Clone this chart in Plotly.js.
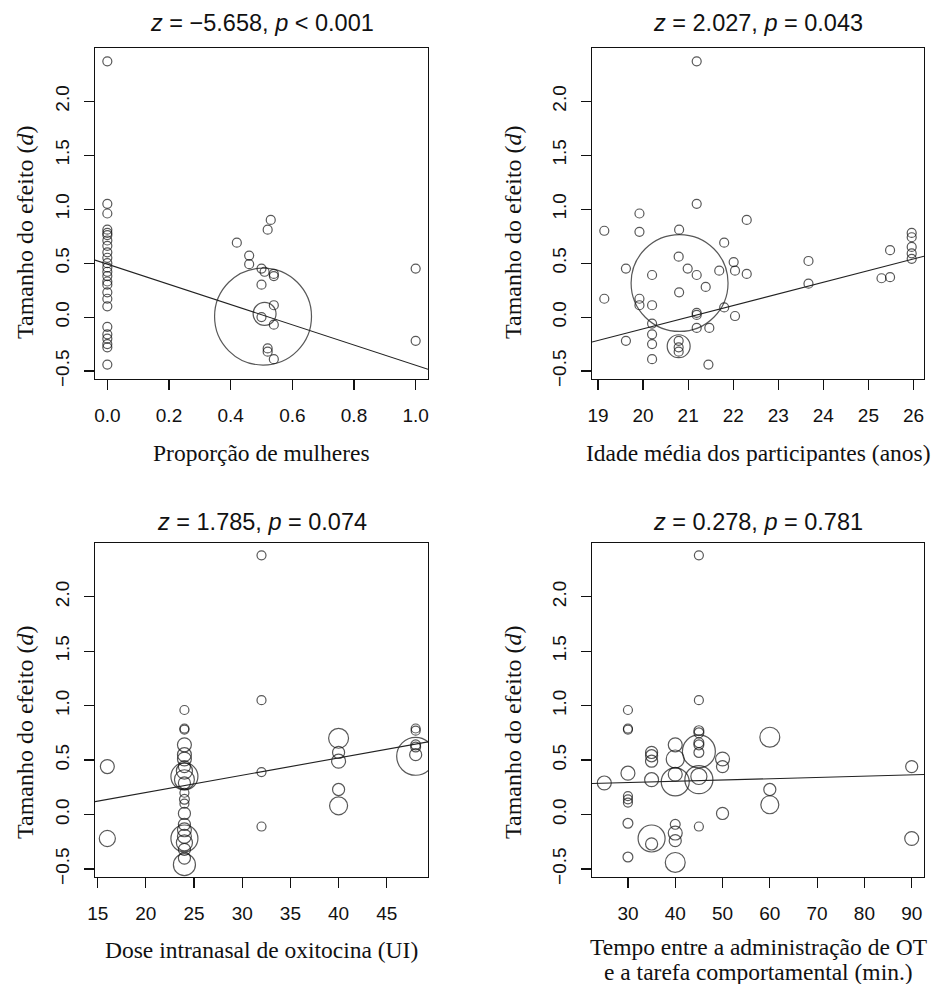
<!DOCTYPE html>
<html><head><meta charset="utf-8">
<script src="https://cdn.plot.ly/plotly-3.0.1.min.js"></script>
<style>html,body{margin:0;padding:0;background:#fff}#chart{width:934px;height:984px}</style>
</head><body><div id="chart"></div>
<script>
// ---------- Painel 1: Proporção de mulheres ----------
const propMulheres = [0,0,0,0,0,0,0,0,0,0,0,0,0,0,0,0,0,0,0,0,0,0,0,0,0,
  0.42,0.46,0.46,0.50,0.51,0.54,0.54,0.52,0.53,0.50,0.54,0.50,0.51,0.505,0.54,0.52,0.52,0.54,
  1.0,1.0];
const dMulheres = [2.37,1.05,0.96,0.81,0.78,0.76,0.71,0.66,0.60,0.55,0.50,0.46,0.42,0.38,0.33,0.30,0.23,0.17,0.10,-0.09,-0.16,-0.20,-0.25,-0.28,-0.44,
  0.69,0.57,0.49,0.45,0.42,0.40,0.38,0.81,0.90,0.30,0.11,0.00,0.03,0.005,-0.07,-0.29,-0.32,-0.39,
  0.45,-0.22];
const pesoMulheres = [1,1,1,1,1,1,1,1,1,1,1,1,1,1,1,1,1,1,1,1,1,1,1,1,1,
  1,1,1,1,1,1,1,1,1,1,1,1,6.5,116,1,1,1,1,
  1,1];

// ---------- Painel 2: Idade média ----------
const idade = [21.19,21.19,19.14,19.92,19.92,20.80,22.30,21.80,20.79,19.62,20.20,20.99,21.19,21.69,22.01,22.04,22.30,21.39,20.80,19.14,19.92,19.92,20.20,21.80,21.19,21.19,22.04,20.20,20.20,20.20,20.20,21.19,21.47,19.62,20.79,20.79,20.79,20.79,21.45,20.81,23.67,23.67,25.48,25.29,25.48,25.96,25.96,25.96,25.96,25.96];
const dIdade = [2.37,1.05,0.80,0.96,0.79,0.81,0.90,0.69,0.56,0.45,0.39,0.45,0.39,0.43,0.51,0.43,0.40,0.28,0.23,0.17,0.17,0.11,0.11,0.09,0.04,0.02,0.01,-0.06,-0.16,-0.25,-0.39,-0.10,-0.10,-0.22,-0.22,-0.28,-0.32,-0.27,-0.44,0.316,0.52,0.31,0.62,0.36,0.37,0.78,0.74,0.65,0.59,0.54];
const pesoIdade = [1,1,1,1,1,1,1,1,1,1,1,1,1,1,1,1,1,1,1,1,1,1,1,1,1,1,1,1,1,1,1,1,1,1,1,1,1,6.5,1,116,1,1,1,1,1,1,1,1,1,1];

// ---------- Painel 3: Dose intranasal ----------
const dose = [32,32,32,32,16,16,
  24,24,24,24,24,24,24,24,24,24,24,24,24,24,24,24,24,24,24,24,24,24,24,
  40,40,40,40,40,
  48,48,48,48,48,48];
const dDose = [2.38,1.05,0.39,-0.11,0.44,-0.22,
  0.96,0.79,0.78,0.64,0.55,0.51,0.44,0.40,0.35,0.32,0.29,0.20,0.14,0.10,0.01,-0.09,-0.14,-0.20,-0.22,-0.26,-0.32,-0.40,-0.46,
  0.70,0.57,0.49,0.23,0.08,
  0.79,0.77,0.64,0.62,0.55,0.535];
const pesoDose = [1,1,1,1,2.4,3.2,
  1,1,1,2.4,2.4,2.4,1.8,3.2,9,4.9,1.8,1,1.2,1,1.8,1.8,2.4,2.4,9,3.2,1.8,1.8,6,
  4.9,1.8,2.4,1.8,4,
  1,1,1.2,1.2,1.8,17.8];

// ---------- Painel 4: Tempo entre administração e tarefa ----------
const tempo = [25,
  30,30,30,30,30,30,30,30,30,
  35,35,35,35,35,35,
  40,40,40,40,40,40,40,40,
  45,45,45,45,45,45,45,45,45,45,45,
  50,50,50,
  60,60,60,
  90,90];
const dTempo = [0.29,
  0.96,0.79,0.78,0.38,0.17,0.14,0.11,-0.08,-0.39,
  0.57,0.54,0.49,0.32,-0.22,-0.27,
  0.64,0.51,0.37,0.30,-0.09,-0.17,-0.24,-0.44,
  2.38,1.05,0.77,0.75,0.66,0.64,0.57,0.58,0.35,0.32,-0.11,
  0.51,0.44,0.01,
  0.71,0.23,0.09,
  0.44,-0.22];
const pesoTempo = [2.4,
  1,1,1,2.4,1,1,1,1.2,1.2,
  1.8,1.8,1.8,2.4,9,1.8,
  2.4,4,2.4,9.7,1.2,2.4,1.8,4.9,
  1,1,1.2,1.2,1.2,1.2,1.2,13.4,3.2,9.7,1,
  2.4,1.8,1.8,
  4.9,1.8,4,
  1.8,2.4];

// ---------- Meta-regressões (intercepto, inclinação) ----------
const intercepto = [0.491, -2.269, -0.116, 0.258];
const inclinacao = [-0.937, 0.108, 0.0159, 0.00118];

// ---------- Textos ----------
const titulos = [
  '<i>z</i> = −5.658, <i>p</i> &lt; 0.001',
  '<i>z</i> = 2.027, <i>p</i> = 0.043',
  '<i>z</i> = 1.785, <i>p</i> = 0.074',
  '<i>z</i> = 0.278, <i>p</i> = 0.781'
];
const rotulosX = [
  ['Proporção de mulheres'],
  ['Idade média dos participantes (anos)'],
  ['Dose intranasal de oxitocina (UI)'],
  ['Tempo entre a administração de OT', 'e a tarefa comportamental (min.)']
];
const rotuloY = 'Tamanho do efeito (<i>d</i>)';
const ticksX = [
  [0, 0.2, 0.4, 0.6, 0.8, 1.0],
  [19, 20, 21, 22, 23, 24, 25, 26],
  [15, 20, 25, 30, 35, 40, 45],
  [30, 40, 50, 60, 70, 80, 90]
];
const ticksY = [-0.5, 0.0, 0.5, 1.0, 1.5, 2.0];

// ---------- Construção ----------
const xs = [propMulheres, idade, dose, tempo];
const ys = [dMulheres, dIdade, dDose, dTempo];
const ws = [pesoMulheres, pesoIdade, pesoDose, pesoTempo];

function rRange(v) { // R default axis extension: 4% each side
  const mn = Math.min(...v), mx = Math.max(...v), s = mx - mn;
  return [mn - 0.04 * s, mx + 0.04 * s];
}
const allY = [].concat(...ys);
const yRange = rRange(allY);

const W = 934, H = 984;
const px = (a, b) => [a / W, b / W];
const py = (top, bottom) => [1 - bottom / H, 1 - top / H];
const domX = [px(95, 428), px(592, 924), px(95, 428), px(592, 924)];
const domY = [py(48, 379), py(48, 379), py(543, 877), py(543, 877)];
// text placement (px from top/left)
const titleY = [23, 23, 522, 522];
const xTitleY = [[453], [453], [950], [947, 972]];
const yTitleX = [25, 513, 25, 513];
const yTitleY = [232, 232, 732, 732];

const sans = 'Liberation Sans, Arial, sans-serif';
const serif = 'Liberation Serif, Times New Roman, serif';
const ink = '#111';

const traces = [];
const layout = {
  width: W, height: H,
  margin: {l: 0, r: 0, t: 0, b: 0},
  paper_bgcolor: '#fff', plot_bgcolor: '#fff',
  showlegend: false,
  annotations: []
};

for (let i = 0; i < 4; i++) {
  const sfx = i === 0 ? '' : String(i + 1);
  const xr = rRange(xs[i]);
  traces.push({
    type: 'scatter', mode: 'markers',
    x: xs[i], y: ys[i],
    xaxis: 'x' + sfx, yaxis: 'y' + sfx,
    marker: {
      symbol: 'circle-open',
      size: ws[i].map(w => 9 * Math.sqrt(w)),
      color: ink,
      line: {width: 1.2, color: ink}
    },
    cliponaxis: true,
    hoverinfo: 'x+y'
  });
  traces.push({
    type: 'scatter', mode: 'lines',
    x: xr, y: xr.map(v => intercepto[i] + inclinacao[i] * v),
    xaxis: 'x' + sfx, yaxis: 'y' + sfx,
    line: {color: '#222', width: 1.1},
    hoverinfo: 'skip'
  });
  layout['xaxis' + sfx] = {
    domain: domX[i], anchor: 'y' + sfx, range: xr,
    tickmode: 'array', tickvals: ticksX[i],
    tickformat: i === 0 ? '.1f' : 'd',
    ticks: 'outside', ticklen: 10, tickwidth: 1.2, tickcolor: ink,
    ticklabelstandoff: 9,
    showline: true, mirror: true, linecolor: ink, linewidth: 1.3,
    showgrid: false, zeroline: false,
    tickfont: {family: sans, size: 19, color: ink},
    automargin: false
  };
  layout['yaxis' + sfx] = {
    domain: domY[i], anchor: 'x' + sfx, range: yRange,
    tickmode: 'array', tickvals: ticksY, tickformat: '.1f',
    tickangle: -90,
    ticks: 'outside', ticklen: 10, tickwidth: 1.2, tickcolor: ink,
    ticklabelstandoff: 7,
    showline: true, mirror: true, linecolor: ink, linewidth: 1.3,
    showgrid: false, zeroline: false,
    tickfont: {family: sans, size: 19, color: ink},
    automargin: false
  };
  const cx = (domX[i][0] + domX[i][1]) / 2;
  layout.annotations.push({
    xref: 'paper', yref: 'paper', x: cx, y: 1 - titleY[i] / H,
    xanchor: 'center', yanchor: 'middle',
    text: titulos[i], showarrow: false,
    font: {family: sans, size: 23.5, color: ink}
  });
  rotulosX[i].forEach((t, k) => {
    layout.annotations.push({
      xref: 'paper', yref: 'paper', x: cx, y: 1 - xTitleY[i][k] / H,
      xanchor: 'center', yanchor: 'middle',
      text: t, showarrow: false,
      font: {family: serif, size: 23.5, color: ink}
    });
  });
  layout.annotations.push({
    xref: 'paper', yref: 'paper', x: yTitleX[i] / W, y: 1 - yTitleY[i] / H,
    xanchor: 'center', yanchor: 'middle', textangle: -90,
    text: rotuloY, showarrow: false,
    font: {family: serif, size: 24, color: ink}
  });
}

Plotly.newPlot('chart', traces, layout, {displayModeBar: false, staticPlot: true});
</script>
</body></html>
